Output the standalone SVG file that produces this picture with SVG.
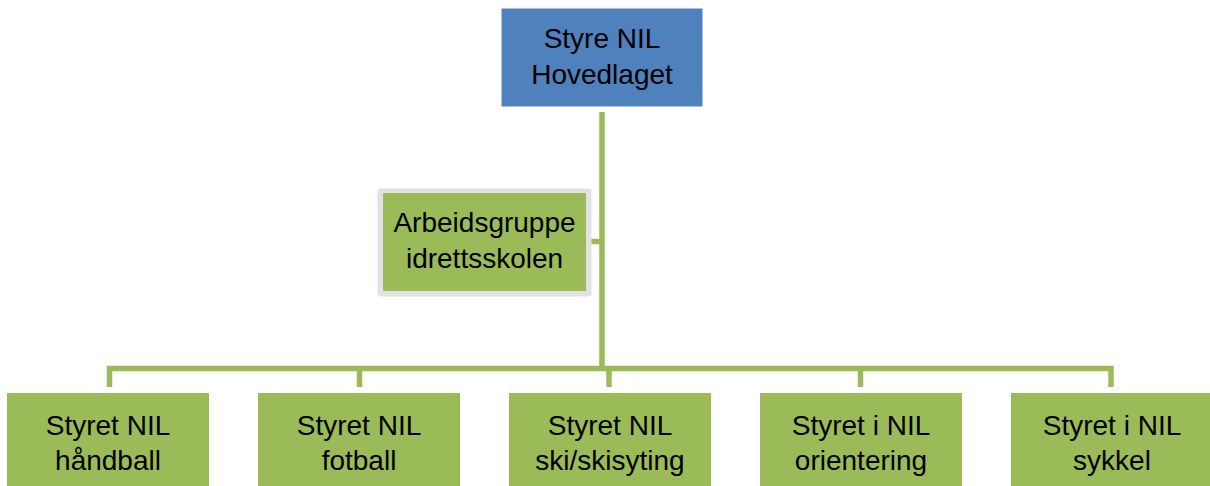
<svg xmlns="http://www.w3.org/2000/svg" width="1210" height="486" viewBox="0 0 1210 486">
<style>
.line{fill:none;stroke:#9BBB59;stroke-width:5.5;stroke-linejoin:miter}
.green{fill:#9BBB59}
.blue{fill:#4F81BD;stroke:#FFFFFF;stroke-width:1}
.t{font-family:"Liberation Sans",Arial,sans-serif;font-size:28px;fill:#000;text-anchor:middle}
</style>
<rect width="1210" height="486" fill="#FFFFFF"/>
<g id="connectors">
<path class="line" d="M602,112 V369"/>
<path class="line" d="M586,241.5 H602"/>
<path class="line" d="M109.5,387 V368.5 H1111 V387"/>
<path class="line" d="M359.5,368.5 V387"/>
<path class="line" d="M609,368.5 V387"/>
<path class="line" d="M860.5,368.5 V387"/>
</g>
<g id="node-styre">
<rect class="blue" x="501" y="8" width="202" height="99"/>
<text class="t" x="602" y="48">Styre NIL</text>
<text class="t" x="602" y="84">Hovedlaget</text>
</g>
<g id="node-arbeidsgruppe">
<rect x="377.5" y="188.5" width="214" height="108" rx="3" fill="#E2E2E2"/>
<rect class="green" x="383" y="193" width="203" height="98"/>
<text class="t" x="484.5" y="232">Arbeidsgruppe</text>
<text class="t" x="484.5" y="268">idrettsskolen</text>
</g>
<g id="node-handball">
<rect class="green" x="7" y="393" width="202" height="100"/>
<text class="t" x="108" y="435">Styret NIL</text>
<text class="t" x="108" y="470">håndball</text>
</g>
<g id="node-fotball">
<rect class="green" x="258" y="393" width="202" height="100"/>
<text class="t" x="359" y="435">Styret NIL</text>
<text class="t" x="359" y="470">fotball</text>
</g>
<g id="node-ski">
<rect class="green" x="509" y="393" width="202" height="100"/>
<text class="t" x="610" y="435">Styret NIL</text>
<text class="t" x="610" y="470">ski/skisyting</text>
</g>
<g id="node-orientering">
<rect class="green" x="760" y="393" width="202" height="100"/>
<text class="t" x="861" y="435">Styret i NIL</text>
<text class="t" x="861" y="470">orientering</text>
</g>
<g id="node-sykkel">
<rect class="green" x="1011" y="393" width="202" height="100"/>
<text class="t" x="1112" y="435">Styret i NIL</text>
<text class="t" x="1112" y="470">sykkel</text>
</g>
</svg>
